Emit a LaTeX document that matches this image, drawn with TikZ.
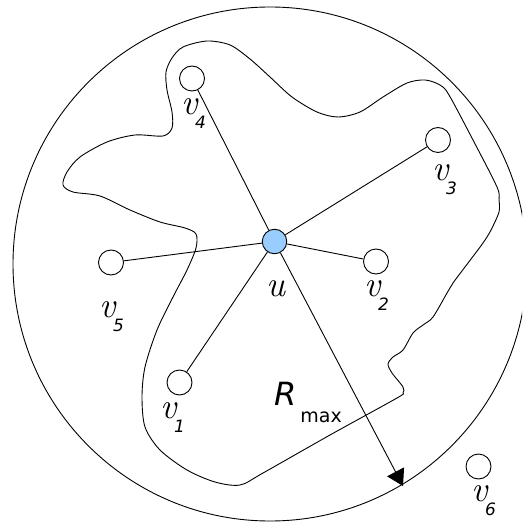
\documentclass[tikz,border=0pt]{standalone}
\usepackage{fontspec}
\newfontfamily\dvs{DejaVu Sans}
\usetikzlibrary{arrows.meta}
\definecolor{ublue}{RGB}{153,204,255}
\newcommand\vlab[1]{\makebox[14pt][l]{\itshape v}\raisebox{-14pt}{\dvs\itshape\fontsize{17}{20}\selectfont #1}}
\begin{document}
\begin{tikzpicture}[x=1pt,y=-1pt,
  vnode/.style={circle,draw,line width=0.9pt,minimum size=25pt,inner sep=0pt,fill=white},
  unode/.style={vnode,fill=ublue,minimum size=24.5pt},
  lab/.style={inner sep=0pt,anchor=base west,font=\fontsize{36}{40}\selectfont},
  edge/.style={line width=0.9pt}]
\fill[white] (0,0) rectangle (522,529);
\clip (0,0) rectangle (522,529);
% outer range circle
\coordinate (c0) at (270,264);
\draw[edge] (c0) circle[radius=257];
% blob
\draw[edge] plot[smooth cycle, tension=0.5] coordinates {
(172,58) (183,47) (207,41) (230,45) (250,59) (270,77) (292,97) (317,112)
(338,117) (360,112) (383,97) (407,83) (425,80) (440,85) (449,95) (473,140)
(497,187) (499,200) (499,212) (491,230) (483,243) (468,263) (453,283) (447,293)
(433,317) (423,325) (413,333) (403,350) (393,357) (388,364) (392,373) (403,387)
(403,393) (397,398) (330,435) (263,473) (240,485) (215,482) (187,470) (160,450)
(145,427) (142,397) (145,367) (157,330) (173,297) (187,270) (196,248) (196,234)
(185,228) (160,222) (130,210) (100,196) (73,192) (63,185) (67,172) (80,157)
(107,142) (135,135) (163,136) (172,128) (172,112) (167,90) (166,72)};
% nodes
\node[unode] (u) at (274.5,241.5) {};
\node[vnode] (v1) at (179.5,382.5) {};
\node[vnode] (v2) at (376,261.5) {};
\node[vnode] (v3) at (438,140) {};
\node[vnode] (v4) at (192,78.5) {};
\node[vnode] (v5) at (111,262.5) {};
\node[vnode] (v6) at (478.5,466.5) {};
% edges
\draw[edge] (u) -- (v1);
\draw[edge] (u) -- (v2);
\draw[edge] (u) -- (v3);
\draw[edge] (u) -- (v4);
\draw[edge] (u) -- (v5);
\coordinate (tip) at (403,486);
\draw[edge,-{Triangle[length=16pt,width=19pt]}] (u) -- (tip);
% labels
\node[lab] (lu) at (266,296) {\itshape u};
\node[lab] (l1) at (160,418) {\vlab{1}};
\node[lab] (l2) at (364,296) {\vlab{2}};
\node[lab] (l3) at (432,181) {\vlab{3}};
\node[lab] (l4) at (181,115) {\vlab{4}};
\node[lab] (l5) at (99,317) {\vlab{5}};
\node[lab] (l6) at (471,501) {\vlab{6}};
\node[inner sep=0pt,anchor=base west] (lr) at (274,405)
  {{\dvs\itshape\fontsize{32}{36}\selectfont R}\hspace{4pt}\raisebox{-17pt}{\dvs\fontsize{19}{20}\selectfont max}};
\end{tikzpicture}
\end{document}
